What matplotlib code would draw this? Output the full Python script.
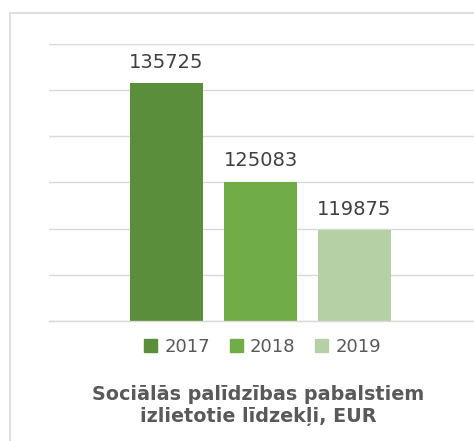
import matplotlib.pyplot as plt
import matplotlib.patches as mpatches
import numpy as np

years = ['2017', '2018', '2019']
values = [135725, 125083, 119875]
colors = ['#5B8E3A', '#70AD47', '#B6D0A6']
title = 'Sociālās palīdzības pabalstiem\nizlietotie līdzekļi, EUR'

W, H = 474, 441
fig = plt.figure(figsize=(W / 100, H / 100), dpi=100)

# outer chart frame (right/bottom edges are cut off in the source)
frame = mpatches.Rectangle((9.5 / W, -0.05), 1.1, (H - 12.5) / H + 0.05,
                           transform=fig.transFigure, fill=False,
                           edgecolor='#D9D9D9', linewidth=1.2, clip_on=False)
fig.patches.append(frame)

ax = fig.add_axes([49 / W, (H - 321) / H, 1 - 49 / W, (321 - 43.7) / H])
x = np.arange(len(years))
bars = ax.bar(x, values, width=73 / 94, color=colors, zorder=3)

ax.set_ylim(110000, 140000)
ax.set_xlim(-(166.5 - 49) / 94, -(166.5 - 49) / 94 + (W - 49) / 94)
ax.set_yticks(np.arange(110000, 140001, 5000))
ax.yaxis.grid(True, color='#D9D9D9', linewidth=1.0, zorder=0)
ax.axhline(110000, color='#D9D9D9', linewidth=1.0, zorder=4, clip_on=False)
ax.tick_params(left=False, bottom=False, labelleft=False, labelbottom=False)
for s in ax.spines.values():
    s.set_visible(False)

for xi, v in zip(x, values):
    ax.annotate(str(v), (xi, v), xytext=(0, 8), textcoords='offset points',
                ha='center', va='bottom', fontsize=14, color='#404040')

handles = [mpatches.Patch(color=c, label=y) for c, y in zip(colors, years)]
fig.legend(handles=handles, loc='center', bbox_to_anchor=(262.5 / W, (H - 346.5) / H),
           ncol=3, frameon=False, fontsize=13, handlelength=0.72, handleheight=0.72,
           handletextpad=0.4, columnspacing=1.1, labelcolor='#595959')

fig.text(258 / W, (H - 406) / H, title, ha='center', va='center',
         fontsize=13.8, fontweight='bold', color='#595959', linespacing=1.2)

fig.savefig('out.png', dpi=100)
